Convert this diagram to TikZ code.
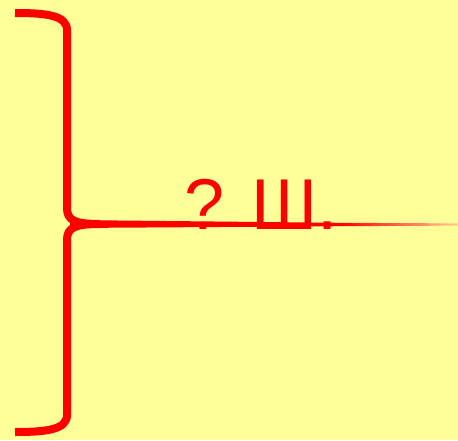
\documentclass[tikz,border=0pt]{standalone}
\usepackage{fontspec}
\setmainfont{Liberation Sans}
\definecolor{bgyellow}{RGB}{255,255,153}
\definecolor{fadeend}{RGB}{255,205,140}
\begin{document}
\begin{tikzpicture}[x=1pt,y=-1pt,
  bracestroke/.style={draw=red,line width=8pt,line cap=butt,line join=round},
  labeltext/.style={text=red,font=\fontsize{72}{80}\selectfont,inner sep=0pt,anchor=base west}]
\fill[bgyellow] (0,0) rectangle (458,440);
\useasboundingbox (0,0) rectangle (458,440);
% tapered stem
\fill[red] (70,220) -- (340,222.8) -- (340,226.2) -- (70,228) -- cycle;
\shade[left color=red,right color=fadeend] (340,222.8) -- (458,223.4) -- (458,225.6) -- (340,226.2) -- cycle;
% brace halves
\draw[bracestroke] (15,13) .. controls (45,13) and (67,15) .. (67,30) -- (67,208) .. controls (67,220) and (74,224) .. (100,224);
\draw[bracestroke] (15,432) .. controls (45,432) and (67,430) .. (67,415) -- (67,240) .. controls (67,228) and (74,224) .. (100,224);
\node[labeltext] (lbl) at (184.5,229) {? Ш.};
\end{tikzpicture}
\end{document}
